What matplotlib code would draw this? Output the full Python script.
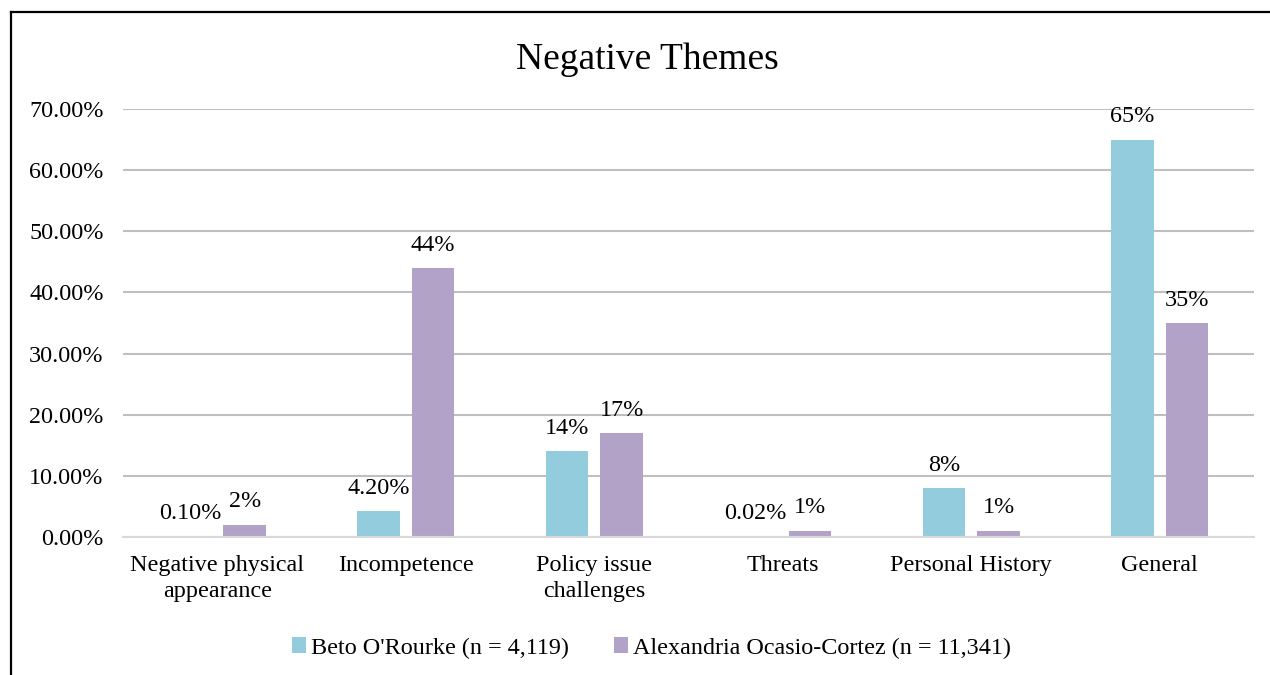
import matplotlib
matplotlib.use("Agg")
import matplotlib.pyplot as plt
import numpy as np
from matplotlib.lines import Line2D

plt.rcParams['font.family'] = ['Liberation Serif', 'DejaVu Serif']

categories = ["Negative physical\nappearance", "Incompetence", "Policy issue\nchallenges",
              "Threats", "Personal History", "General"]
beto = [0.10, 4.20, 14, 0.02, 8, 65]
aoc = [2, 44, 17, 1, 1, 35]
beto_labels = ["0.10%", "4.20%", "14%", "0.02%", "8%", "65%"]
aoc_labels = ["2%", "44%", "17%", "1%", "1%", "35%"]
series_names = ["Beto O'Rourke (n = 4,119)", "Alexandria Ocasio-Cortez (n = 11,341)"]
yticks = [0, 10, 20, 30, 40, 50, 60, 70]

teal = "#93CDDD"
purple = "#B3A2C7"
fs = 17.4

fig = plt.figure(figsize=(12.7, 6.75), dpi=100)
ax = fig.add_axes([0.0969, 0.2044, 0.8906, 0.634])

x = np.arange(len(categories))
w = 0.225
off = 0.145
b1 = ax.bar(x - off, beto, w, color=teal, label=series_names[0])
b2 = ax.bar(x + off, aoc, w, color=purple, label=series_names[1])

for bars, labs in ((b1, beto_labels), (b2, aoc_labels)):
    for rect, lab in zip(bars, labs):
        ax.annotate(lab, (rect.get_x() + rect.get_width() / 2, rect.get_height()),
                    xytext=(0, 9), textcoords="offset points",
                    ha="center", va="bottom", fontsize=fs)

ax.set_xlim(-0.5, len(categories) - 0.5)
ax.set_ylim(0, 70)
ax.set_yticks(yticks)
ax.set_yticklabels([f"{v:.2f}%" for v in yticks], fontsize=fs)
ax.set_xticks(x)
ax.set_xticklabels(categories, fontsize=fs, linespacing=1.3)
ax.tick_params(length=0, pad=14)
ax.tick_params(axis="x", pad=13)
ax.yaxis.grid(True, color="#BFBFBF", linewidth=1.5)
ax.set_axisbelow(True)
for s in ("left", "right", "top"):
    ax.spines[s].set_visible(False)
ax.spines["bottom"].set_color("#D9D9D9")
ax.spines["bottom"].set_linewidth(1.5)

fig.text(0.5095, 0.911, "Negative Themes", ha="center", va="center", fontsize=27)

fig.legend(handles=[b1, b2], labels=series_names, loc="center",
           bbox_to_anchor=(0.513, 0.04), ncol=2, frameon=False, fontsize=fs,
           handlelength=0.6, handleheight=0.6, handletextpad=0.2, columnspacing=1.85)

# outer frame (left and top edges)
fig.add_artist(Line2D([11 / 1270, 11 / 1270], [0, 1 - 12 / 675], color="black", linewidth=1.6,
                      transform=fig.transFigure))
fig.add_artist(Line2D([11 / 1270, 1], [1 - 12 / 675, 1 - 12 / 675], color="black", linewidth=1.6,
                      transform=fig.transFigure))

fig.savefig("out.png", dpi=100)
